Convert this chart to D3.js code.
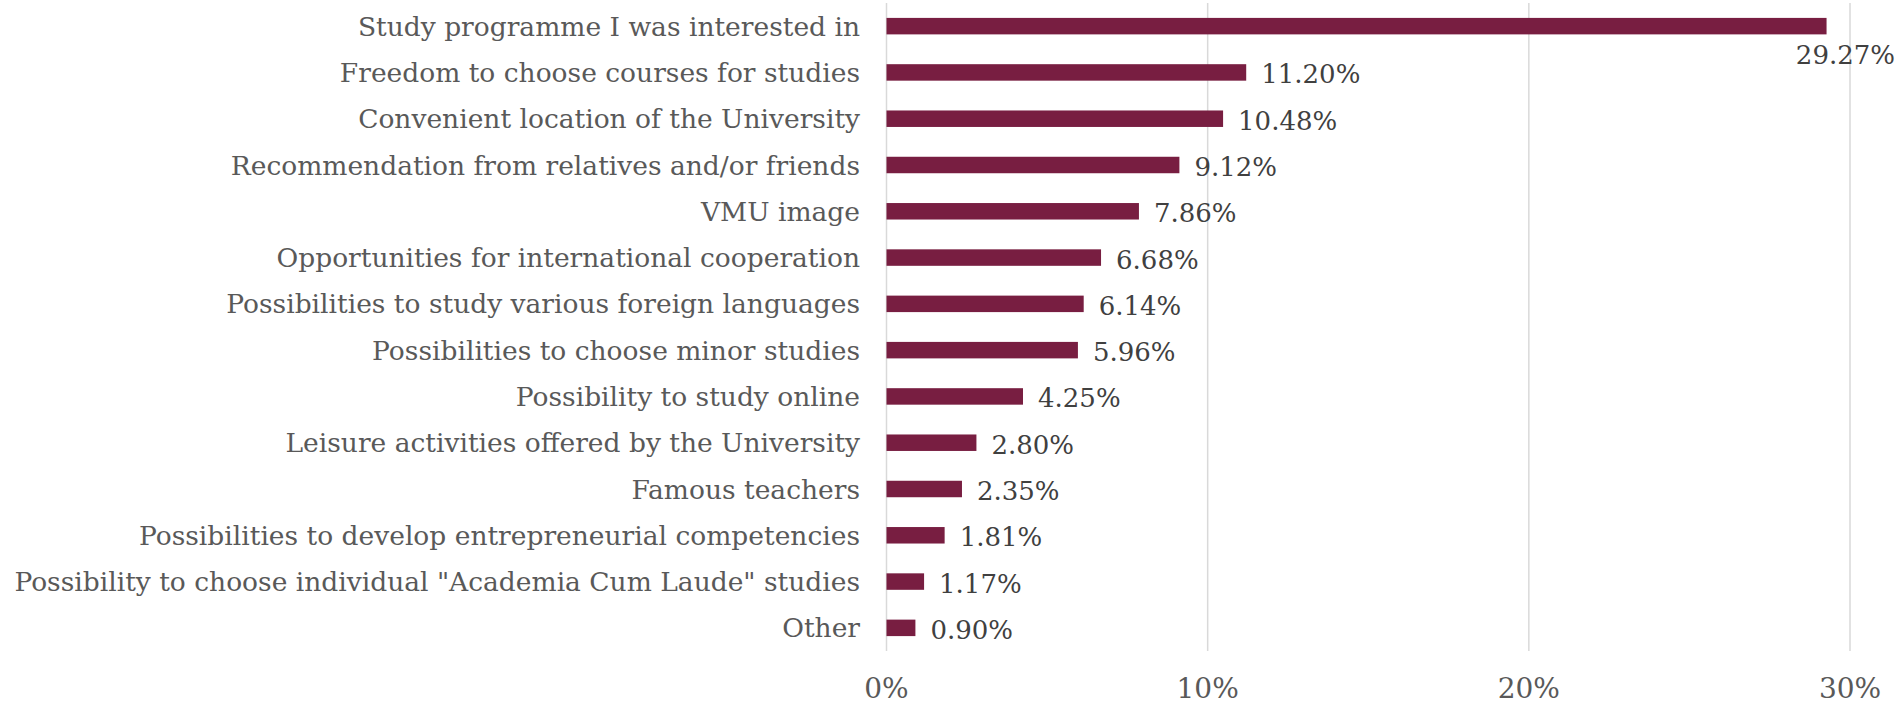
<html>
<head>
    <script src="https://d3js.org/d3.v7.min.js"></script>
    <style>
        body { margin: 0; background: #fff; }
        svg text { font-family: "DejaVu Serif", Georgia, serif; }
    </style>
</head>
<body>
    <svg id="chart" width="1901" height="705"></svg>
    <script>
        // reasons for choosing the university, share of answers
        const categories = [
            "Study programme I was interested in",
            "Freedom to choose courses for studies",
            "Convenient location of the University",
            "Recommendation from relatives and/or friends",
            "VMU image",
            "Opportunities for international cooperation",
            "Possibilities to study various foreign languages",
            "Possibilities to choose minor studies",
            "Possibility to study online",
            "Leisure activities offered by the University",
            "Famous teachers",
            "Possibilities to develop entrepreneurial competencies",
            "Possibility to choose individual \"Academia Cum Laude\" studies",
            "Other"
        ];
        const values = [29.27, 11.20, 10.48, 9.12, 7.86, 6.68, 6.14, 5.96, 4.25, 2.80, 2.35, 1.81, 1.17, 0.90];
        const ticks = [0, 10, 20, 30];

        const svg = d3.select("#chart");
        const width = +svg.attr("width");
        const height = +svg.attr("height");

        const margin = {top: 3, right: 51, bottom: 54, left: 886.5};

        const x = d3.scaleLinear()
            .domain([0, 30])
            .range([margin.left, width - margin.right]);

        const y = d3.scaleBand()
            .domain(categories)
            .range([margin.top, height - margin.bottom])
            .paddingInner(0.644)
            .paddingOuter(0.322);

        // gridlines
        svg.append("g")
            .selectAll("line")
            .data(ticks)
            .join("line")
            .attr("x1", d => x(d))
            .attr("x2", d => x(d))
            .attr("y1", margin.top)
            .attr("y2", height - margin.bottom)
            .style("stroke", "#d9d9d9")
            .style("stroke-width", 1.5);

        // x tick labels
        svg.append("g")
            .selectAll("text")
            .data(ticks)
            .join("text")
            .attr("x", d => x(d))
            .attr("y", 698)
            .attr("text-anchor", "middle")
            .style("font-size", "28px")
            .style("fill", "#595959")
            .text(d => d + "%");

        // bars
        svg.append("g")
            .selectAll("rect")
            .data(values)
            .join("rect")
            .attr("x", x(0))
            .attr("y", (d, i) => y(categories[i]))
            .attr("width", d => x(d) - x(0))
            .attr("height", y.bandwidth())
            .style("fill", "#781e41");

        // category labels
        svg.append("g")
            .selectAll("text")
            .data(categories)
            .join("text")
            .attr("x", 860)
            .attr("y", d => y(d) + y.bandwidth() / 2)
            .attr("text-anchor", "end")
            .attr("dominant-baseline", "central")
            .style("font-size", "26.5px")
            .style("fill", "#595959")
            .text(d => d);

        // value labels
        svg.append("g")
            .selectAll("text")
            .data(values)
            .join("text")
            .each(function(d, i) {
                const t = d3.select(this)
                    .style("font-size", "26px")
                    .style("fill", "#404040")
                    .text(d.toFixed(2) + "%");
                const w = this.getComputedTextLength();
                const cy = y(categories[i]) + y.bandwidth() / 2;
                if (x(d) + 15 + w > width - 4) {
                    // no room after the bar: put it under the bar end
                    t.attr("x", width - 6).attr("y", cy + 29)
                        .attr("text-anchor", "end")
                        .attr("dominant-baseline", "central");
                } else {
                    t.attr("x", x(d) + 15).attr("y", cy + 2)
                        .attr("dominant-baseline", "central");
                }
            });
    </script>
</body>
</html>
